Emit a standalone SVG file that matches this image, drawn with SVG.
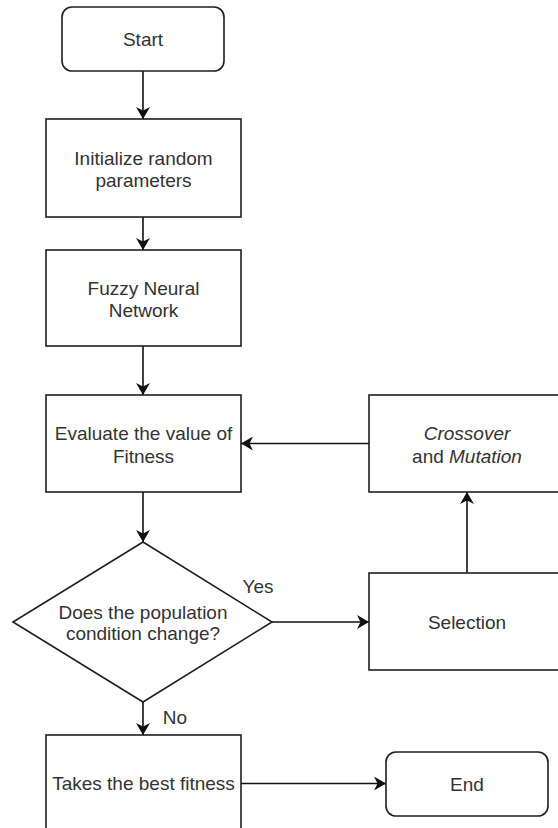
<svg xmlns="http://www.w3.org/2000/svg" width="558" height="828" viewBox="0 0 558 828">
  <style>
    .box { fill: #ffffff; stroke: #1f1f1f; stroke-width: 1.6; }
    .lbl { font-family: "Liberation Sans", Arial, sans-serif; font-size: 19px; fill: #333333; text-anchor: middle; }
    .it { font-style: italic; }
    .edge { fill: none; stroke: #111111; stroke-width: 1.6; }
  </style>
  <defs>
    <marker id="arrow" viewBox="0 0 12 14" refX="12" refY="7" markerWidth="12" markerHeight="14" markerUnits="userSpaceOnUse" orient="auto">
      <path d="M0,0 L12,7 L0,14 L3.5,7 Z" fill="#111111"/>
    </marker>
  </defs>
  <rect width="558" height="828" fill="#ffffff"/>

  <!-- connectors -->
  <g id="connectors">
    <line class="edge" x1="143" y1="71" x2="143" y2="119" marker-end="url(#arrow)"/>
    <line class="edge" x1="143" y1="217" x2="143" y2="250" marker-end="url(#arrow)"/>
    <line class="edge" x1="143" y1="346" x2="143" y2="395" marker-end="url(#arrow)"/>
    <line class="edge" x1="143" y1="492" x2="143" y2="542" marker-end="url(#arrow)"/>
    <line class="edge" x1="143" y1="702" x2="143" y2="735" marker-end="url(#arrow)"/>
    <line class="edge" x1="272" y1="622" x2="369" y2="622" marker-end="url(#arrow)"/>
    <line class="edge" x1="467" y1="573" x2="467" y2="492" marker-end="url(#arrow)"/>
    <line class="edge" x1="369" y1="443.5" x2="241" y2="443.5" marker-end="url(#arrow)"/>
    <line class="edge" x1="241" y1="783.5" x2="386" y2="783.5" marker-end="url(#arrow)"/>
    <text class="lbl" x="258" y="593">Yes</text>
    <text class="lbl" x="175" y="724">No</text>
  </g>

  <g id="start">
    <rect class="box" x="62" y="7" width="162" height="64" rx="10" ry="10"/>
    <text class="lbl" x="143" y="46">Start</text>
  </g>

  <g id="init">
    <rect class="box" x="46" y="119" width="195" height="98"/>
    <text class="lbl" x="143.5" y="165">Initialize random</text>
    <text class="lbl" x="143.5" y="187">parameters</text>
  </g>

  <g id="fnn">
    <rect class="box" x="46" y="250" width="195" height="96"/>
    <text class="lbl" x="143.5" y="295">Fuzzy Neural</text>
    <text class="lbl" x="143.5" y="317">Network</text>
  </g>

  <g id="evaluate">
    <rect class="box" x="46" y="395" width="195" height="97"/>
    <text class="lbl" x="143.5" y="440">Evaluate the value of</text>
    <text class="lbl" x="143.5" y="463">Fitness</text>
  </g>

  <g id="decision">
    <polygon class="box" points="143,542 272,622 143,702 13,622"/>
    <text class="lbl" x="143" y="619">Does the population</text>
    <text class="lbl" x="143" y="640">condition change?</text>
  </g>

  <g id="crossover">
    <rect class="box" x="369" y="395" width="196" height="97"/>
    <text class="lbl it" x="467" y="440">Crossover</text>
    <text class="lbl" x="467" y="463">and <tspan class="it">Mutation</tspan></text>
  </g>

  <g id="selection">
    <rect class="box" x="369" y="573" width="196" height="97"/>
    <text class="lbl" x="467" y="629">Selection</text>
  </g>

  <g id="best">
    <rect class="box" x="46" y="735" width="195" height="97"/>
    <text class="lbl" x="143.5" y="790">Takes the best fitness</text>
  </g>

  <g id="end">
    <rect class="box" x="386" y="752" width="162" height="64" rx="10" ry="10"/>
    <text class="lbl" x="467" y="791">End</text>
  </g>
</svg>
